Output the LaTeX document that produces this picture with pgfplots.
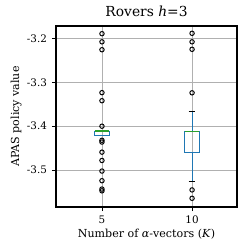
\documentclass[border=0pt]{standalone}
\usepackage{fontspec}
\setmainfont{DejaVu Serif}
\usepackage{pgfplots}
\pgfplotsset{compat=1.18}
\definecolor{cbox}{HTML}{1F77B4}
\definecolor{cmed}{HTML}{2CA02C}
\definecolor{cgrid}{HTML}{B0B0B0}
\begin{document}
\begin{tikzpicture}
\begin{axis}[
  scale only axis,
  width=130.9pt, height=130.9pt,
  xmin=0.49, xmax=2.5,
  ymin=-3.584, ymax=-3.172,
  xtick={1,2}, xticklabels={5,10},
  ytick={-3.5,-3.4,-3.3,-3.2},
  yticklabel style={/pgf/number format/.cd,fixed,precision=1,fixed zerofill},
  /pgf/number format/assume math mode=true,
  tick label style={font=\fontsize{7.5}{9}\selectfont, black},
  label style={font=\fontsize{8}{10}\selectfont},
  title style={font=\fontsize{10}{12}\selectfont, yshift=-3pt},
  title={Rovers \textit{h}=3},
  xlabel={Number of \textit{α}-vectors (\textit{K})},
  ylabel={APAS policy value},
  xlabel style={yshift=3pt},
  ylabel style={yshift=-3pt},
  grid=major,
  major grid style={cgrid, line width=0.5pt},
  axis line style={black, line width=1.1pt},
  tick style={black, line width=0.6pt},
  tick align=outside,
  major tick length=3pt,
  xtick pos=bottom, ytick pos=left,
]
% ---- K=5 (position 1) ----
% whiskers
\addplot[cbox, line width=0.7pt, mark=none] coordinates {(1,-3.4112) (1,-3.4112)};
\addplot[cbox, line width=0.7pt, mark=none] coordinates {(1,-3.4205) (1,-3.4205)};
% caps
\addplot[black, line width=0.7pt, mark=none] coordinates {(0.9625,-3.4112) (1.0375,-3.4112)};
\addplot[black, line width=0.7pt, mark=none] coordinates {(0.9625,-3.4205) (1.0375,-3.4205)};
% box
\addplot[cbox, line width=0.7pt, mark=none] coordinates {(0.92,-3.4205) (1.08,-3.4205) (1.08,-3.4112) (0.92,-3.4112) (0.92,-3.4205)} -- cycle;
% median
\addplot[cmed, line width=1.1pt, mark=none] coordinates {(0.92,-3.4114) (1.08,-3.4114)};
% outliers
\addplot[only marks, mark=o, mark size=1.6pt, mark options={draw=black, line width=0.7pt}] coordinates {
 (1,-3.1895) (1,-3.208) (1,-3.226) (1,-3.3236) (1,-3.342) (1,-3.400) (1,-3.432) (1,-3.436)
 (1,-3.459) (1,-3.478) (1,-3.502) (1,-3.524) (1,-3.543) (1,-3.547)};
% ---- K=10 (position 2) ----
\addplot[cbox, line width=0.7pt, mark=none] coordinates {(2,-3.4125) (2,-3.366)};
\addplot[cbox, line width=0.7pt, mark=none] coordinates {(2,-3.459) (2,-3.526)};
\addplot[black, line width=0.7pt, mark=none] coordinates {(1.9625,-3.366) (2.0375,-3.366)};
\addplot[black, line width=0.7pt, mark=none] coordinates {(1.9625,-3.526) (2.0375,-3.526)};
\addplot[cbox, line width=0.7pt, mark=none] coordinates {(1.92,-3.459) (2.08,-3.459) (2.08,-3.4125) (1.92,-3.4125) (1.92,-3.459)} -- cycle;
\addplot[cmed, line width=1.1pt, mark=none] coordinates {(1.92,-3.4125) (2.08,-3.4125)};
\addplot[only marks, mark=o, mark size=1.6pt, mark options={draw=black, line width=0.7pt}] coordinates {
 (2,-3.1886) (2,-3.208) (2,-3.225) (2,-3.324) (2,-3.545) (2,-3.564)};
\end{axis}
\path ([xshift=-40.5pt,yshift=-30.3pt]current axis.south west) rectangle ([xshift=8.6pt,yshift=18.8pt]current axis.north east);
\end{tikzpicture}
\end{document}
